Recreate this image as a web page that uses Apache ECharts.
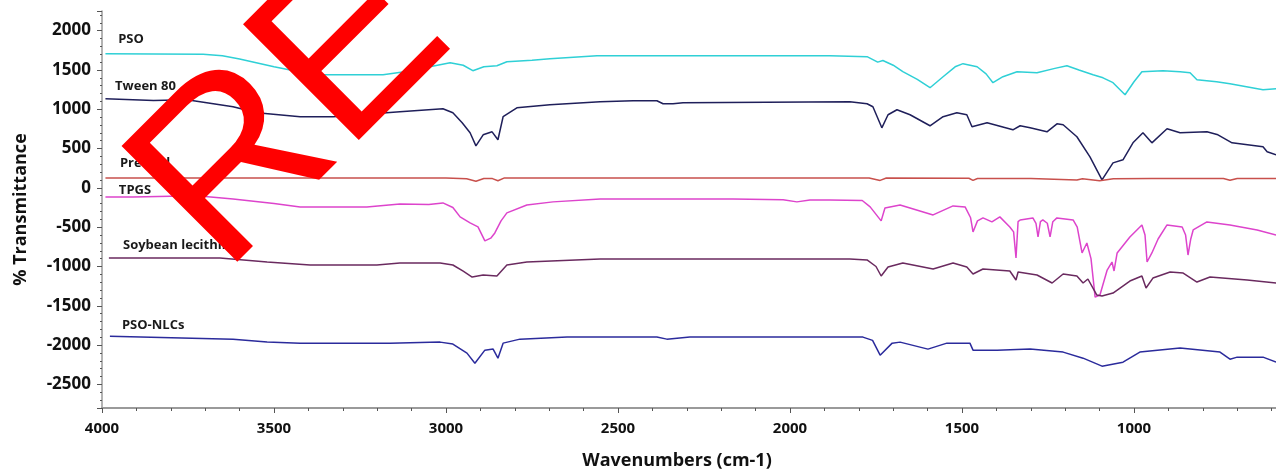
<!DOCTYPE html>
<html>
<head>
<meta charset="utf-8">
<script src="https://cdn.jsdelivr.net/npm/echarts@6/dist/echarts.min.js"></script>
<style>html,body{margin:0;padding:0;background:#fff}#c{width:1276px;height:472px}</style>
</head>
<body>
<div id="c"></div>
<script>
// ---- data (wavenumber cm-1, % transmittance offset) ----
const psoData = [[3990,1707],[3706,1700],[3650,1680],[3600,1640],[3500,1540],[3420,1470],[3375,1440],[3183,1440],[3100,1490],[3047,1541],[2988,1593],[2950,1560],[2922,1491],[2890,1540],[2852,1554],[2823,1605],[2750,1625],[2698,1643],[2561,1682],[2200,1682],[1884,1682],[1776,1669],[1745,1600],[1730,1620],[1700,1560],[1672,1478],[1630,1380],[1593,1274],[1555,1414],[1520,1540],[1497,1580],[1456,1541],[1430,1450],[1410,1338],[1381,1414],[1340,1478],[1282,1465],[1230,1520],[1195,1554],[1160,1500],[1119,1440],[1090,1400],[1061,1338],[1026,1185],[1000,1350],[977,1478],[916,1491],[866,1478],[837,1465],[817,1376],[760,1350],[721,1325],[625,1248],[587,1261]];
const tweenData = [[3990,1134],[3850,1110],[3753,1121],[3619,1032],[3549,955],[3424,905],[3328,905],[3134,968],[3009,1006],[2980,955],[2953,828],[2930,701],[2913,535],[2892,675],[2866,713],[2849,612],[2834,905],[2794,1019],[2698,1057],[2552,1096],[2456,1108],[2387,1108],[2369,1070],[2340,1070],[2311,1083],[1826,1096],[1776,1070],[1759,1032],[1733,764],[1715,930],[1689,994],[1651,930],[1593,790],[1555,905],[1515,955],[1486,930],[1471,777],[1427,828],[1352,739],[1331,790],[1302,764],[1253,713],[1224,815],[1206,803],[1166,650],[1128,395],[1093,102],[1061,318],[1032,357],[1003,573],[974,701],[948,573],[904,752],[866,701],[788,713],[756,675],[715,573],[625,522],[613,459],[587,420]];
const precirolData = [[3990,127],[3000,127],[2940,115],[2913,85],[2890,120],[2865,118],[2849,90],[2830,127],[1770,127],[1738,95],[1720,125],[1480,122],[1468,95],[1455,120],[1300,118],[1166,100],[1150,115],[1100,92],[1060,115],[950,118],[740,120],[721,98],[700,120],[587,120]];
const tpgsData = [[3990,-115],[3910,-115],[3765,-102],[3700,-110],[3619,-140],[3500,-200],[3424,-242],[3230,-242],[3134,-204],[3050,-210],[3009,-191],[2980,-250],[2959,-369],[2930,-446],[2907,-497],[2887,-675],[2870,-640],[2858,-573],[2840,-420],[2823,-318],[2765,-217],[2689,-178],[2552,-140],[2166,-140],[2020,-150],[1980,-178],[1942,-153],[1884,-153],[1790,-160],[1767,-242],[1735,-420],[1724,-255],[1680,-217],[1584,-344],[1526,-229],[1491,-242],[1475,-380],[1468,-561],[1455,-420],[1439,-382],[1413,-433],[1390,-369],[1361,-497],[1350,-560],[1343,-892],[1337,-430],[1331,-408],[1294,-382],[1285,-450],[1279,-624],[1272,-430],[1265,-408],[1252,-450],[1244,-624],[1236,-430],[1224,-382],[1177,-408],[1165,-500],[1151,-828],[1137,-701],[1125,-900],[1113,-1389],[1099,-1363],[1078,-1045],[1064,-943],[1058,-1057],[1049,-828],[1012,-624],[977,-471],[968,-600],[962,-943],[948,-828],[930,-650],[904,-471],[860,-497],[850,-600],[843,-854],[835,-650],[828,-535],[788,-433],[721,-471],[642,-535],[587,-599]];
const soyData = [[3980,-892],[3657,-892],[3520,-943],[3395,-981],[3201,-981],[3134,-955],[3017,-955],[2980,-981],[2950,-1060],[2924,-1134],[2892,-1108],[2852,-1121],[2823,-981],[2765,-943],[2552,-905],[1826,-905],[1776,-917],[1750,-1000],[1735,-1121],[1715,-1006],[1672,-955],[1584,-1032],[1526,-955],[1486,-1006],[1468,-1096],[1439,-1032],[1361,-1057],[1343,-1172],[1337,-1070],[1282,-1108],[1238,-1210],[1206,-1096],[1166,-1121],[1148,-1210],[1134,-1159],[1108,-1363],[1093,-1376],[1061,-1338],[1012,-1185],[977,-1121],[965,-1274],[945,-1147],[895,-1070],[857,-1083],[817,-1198],[779,-1134],[671,-1172],[587,-1210]];
const nlcData = [[3977,-1886],[3619,-1924],[3520,-1962],[3424,-1975],[3163,-1975],[3017,-1962],[2980,-1987],[2939,-2102],[2916,-2230],[2887,-2064],[2863,-2051],[2849,-2166],[2834,-1975],[2785,-1924],[2648,-1898],[2387,-1898],[2358,-1924],[2291,-1898],[1788,-1898],[1760,-1940],[1738,-2128],[1703,-1975],[1680,-1962],[1599,-2051],[1544,-1975],[1477,-1975],[1468,-2064],[1398,-2064],[1302,-2051],[1206,-2089],[1148,-2166],[1093,-2268],[1032,-2217],[983,-2089],[866,-2038],[750,-2089],[721,-2179],[700,-2153],[625,-2153],[587,-2217]];

const seriesNames = ['PSO', 'Tween 80', 'Precirol', 'TPGS', 'Soybean lecithin', 'PSO-NLCs'];
// label anchor (wavenumber, value) for each curve name
const labelWn = [3953, 3962, 3948, 3951, 3939, 3942];
const labelVal = [1887, 1288, 319, -26, -727, -1747];
const watermarkText = 'RE';

const xTitle = 'Wavenumbers (cm-1)';
const yTitle = '% Transmittance';

const colors = ['#2fd0d6', '#1f1f5a', '#c8504c', '#dd44cc', '#6a2a5f', '#2b2b9c'];
const allData = [psoData, tweenData, precirolData, tpgsData, soyData, nlcData];

const chart = echarts.init(document.getElementById('c'), null, {renderer: 'canvas'});
const font = '"Open Sans", "Noto Sans", sans-serif';
const axisGrey = '#9a9a9a';

chart.setOption({
  animation: false,
  backgroundColor: '#ffffff',
  grid: {left: 102, right: -30, top: 11, bottom: 64, containLabel: false, outerBoundsMode: 'none'},
  xAxis: {
    type: 'value', inverse: true, min: 500, max: 4000, interval: 500,
    name: xTitle, nameLocation: 'middle', nameGap: 44,
    nameTextStyle: {fontFamily: font, fontWeight: 'bold', fontSize: 18, color: '#111', padding: [0, 54, 0, 0]},
    axisLine: {show: true, onZero: false, lineStyle: {color: axisGrey, width: 2}},
    axisTick: {show: true, length: 5, lineStyle: {color: '#555', width: 1}},
    minorTick: {show: true, splitNumber: 5, length: 3, lineStyle: {color: '#555', width: 1}},
    axisLabel: {fontFamily: font, fontWeight: 'bold', fontSize: 15, color: '#111', margin: 13,
      formatter: function (v) { return String(v); }},
    splitLine: {show: false}, minorSplitLine: {show: false}
  },
  yAxis: {
    type: 'value', min: -2800, max: 2250, minInterval: 500, maxInterval: 500,
    name: yTitle, nameLocation: 'middle', nameRotate: 90, nameGap: 72,
    nameTextStyle: {fontFamily: font, fontWeight: 'bold', fontSize: 18, color: '#111'},
    axisLine: {show: true, onZero: false, lineStyle: {color: axisGrey, width: 1.5}},
    axisTick: {show: true, length: 5, lineStyle: {color: '#555', width: 1}},
    minorTick: {show: true, splitNumber: 5, length: 2, lineStyle: {color: '#555', width: 1}},
    axisLabel: {fontFamily: font, fontWeight: 'bold', fontSize: 17, color: '#111', margin: 11,
      showMinLabel: false, showMaxLabel: false,
      formatter: function (v) { return (v % 500 === 0) ? String(v) : ''; }},
    splitLine: {show: false}, minorSplitLine: {show: false}
  },
  series: allData.map(function (d, i) {
    return {
      name: seriesNames[i], type: 'line', data: d, showSymbol: false, symbol: 'none',
      lineStyle: {color: colors[i], width: 1.5}, itemStyle: {color: colors[i]}, z: 2
    };
  })
});

const graphics = seriesNames.map(function (n, i) {
  const p = chart.convertToPixel({gridIndex: 0}, [labelWn[i], labelVal[i]]);
  return {
    type: 'text', x: p[0], y: p[1], z: 50,
    style: {text: n, fontFamily: font, fontWeight: 'bold', fontSize: 13, fill: '#1a1a1a',
      textAlign: 'left', textVerticalAlign: 'middle', align: 'left', verticalAlign: 'middle'}
  };
});
graphics.push({
  type: 'text', x: 177, y: 229, rotation: Math.PI / 4, z: 100,
  style: {text: watermarkText, fontFamily: '"Liberation Sans", Arial, sans-serif', fontSize: 238, fill: '#ff0000',
    textAlign: 'left', textVerticalAlign: 'middle', align: 'left', verticalAlign: 'middle'}
});
chart.setOption({graphic: graphics});
</script>
</body>
</html>
